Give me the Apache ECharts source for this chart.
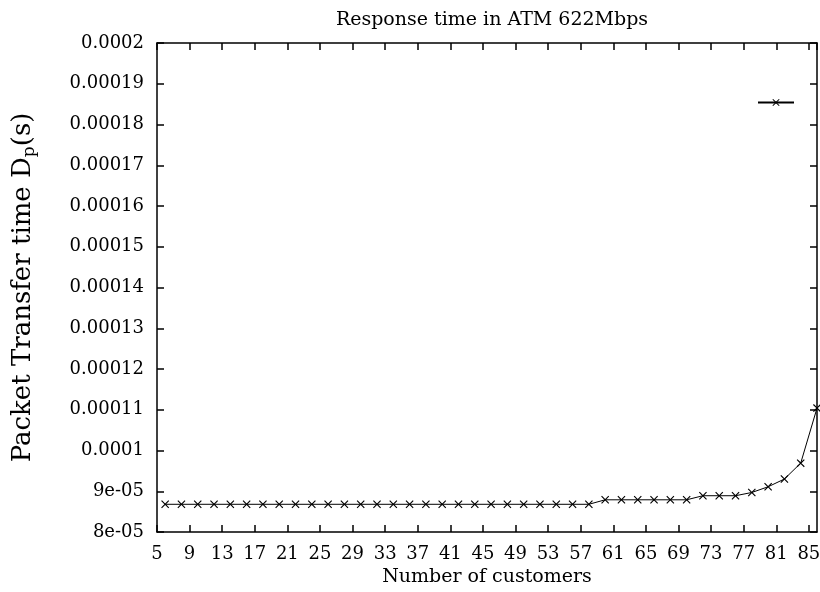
<!DOCTYPE html>
<html>
<head>
<meta charset="utf-8">
<script src="https://cdn.jsdelivr.net/npm/echarts@6/dist/echarts.min.js"></script>
<style>html,body{margin:0;padding:0;background:#fff}#c{width:820px;height:592px}</style>
</head>
<body>
<div id="c"></div>
<script>
const chartTitle = 'Response time in ATM 622Mbps';
const xName = 'Number of customers';
const customers = [6,8,10,12,14,16,18,20,22,24,26,28,30,32,34,36,38,40,42,44,46,48,50,52,54,56,58,60,62,64,66,68,70,72,74,76,78,80,82,84,86];
const responseTimes = [
  8.68e-5,8.68e-5,8.68e-5,8.68e-5,8.68e-5,8.68e-5,8.68e-5,8.68e-5,8.68e-5,8.68e-5,
  8.68e-5,8.68e-5,8.68e-5,8.68e-5,8.68e-5,8.68e-5,8.68e-5,8.68e-5,8.68e-5,8.68e-5,
  8.68e-5,8.68e-5,8.68e-5,8.68e-5,8.68e-5,8.68e-5,8.68e-5,
  8.79e-5,8.79e-5,8.79e-5,8.79e-5,8.79e-5,8.79e-5,
  8.89e-5,8.89e-5,8.89e-5,
  8.97e-5,9.11e-5,9.30e-5,9.69e-5,1.104e-4
];
const yTickLabels = ['8e-05','9e-05','0.0001','0.00011','0.00012','0.00013','0.00014','0.00015','0.00016','0.00017','0.00018','0.00019','0.0002'];
const yMin = 8e-5, yMax = 2e-4, yStep = 1e-5;
const xMin = 5, xMax = 86, xStep = 4;

const font = 'DejaVu Serif';
const crossPath = 'path://M0,1L1,0L5,4L9,0L10,1L6,5L10,9L9,10L5,6L1,10L0,9L4,5Z';

const chart = echarts.init(document.getElementById('c'), null, {renderer: 'canvas'});
const axisLine = {show: true, lineStyle: {color: '#000', width: 1.5}};
const tick = {show: true, inside: true, length: 7, lineStyle: {color: '#000', width: 1.5}};
chart.setOption({
  animation: false,
  backgroundColor: '#fff',
  title: {text: chartTitle, left: 487, top: 6, textAlign: 'center',
    textStyle: {fontFamily: font, fontSize: 19, fontWeight: 'normal', color: '#000'}},
  legend: {left: 752, top: 93, itemWidth: 36, itemHeight: 9, itemGap: 0,
    formatter: () => '', textStyle: {fontSize: 1},
    data: [{name: ' '}]},
  grid: {left: 157, right: 3, top: 43, bottom: 60, containLabel: false, outerBoundsMode: 'none'},
  xAxis: [{
    type: 'value', min: xMin, max: xMax, interval: xStep, position: 'bottom',
    axisLine: axisLine, axisTick: tick, splitLine: {show: false},
    axisLabel: {showMaxLabel: false, margin: 13, color: '#000', fontFamily: font, fontSize: 18},
    name: xName, nameLocation: 'middle', nameGap: 36,
    nameTextStyle: {fontFamily: font, fontSize: 19, color: '#000'}
  }, {
    type: 'value', min: xMin, max: xMax, interval: xStep, position: 'top',
    axisLine: axisLine, axisTick: tick, splitLine: {show: false}, axisLabel: {show: false}
  }],
  yAxis: [{
    type: 'value', min: yMin, max: yMax, interval: yStep, position: 'left',
    axisLine: axisLine, axisTick: tick, splitLine: {show: false},
    axisLabel: {margin: 13, color: '#000', fontFamily: font, fontSize: 18,
      formatter: v => yTickLabels[Math.round((v - yMin) / yStep)] || ''},
    name: '{a|Packet Transfer time D}{b|p}{a|(s)}', nameLocation: 'middle', nameGap: 119, nameRotate: 90,
    nameTextStyle: {rich: {
      a: {fontFamily: font, fontSize: 26, color: '#000'},
      b: {fontFamily: font, fontSize: 17, color: '#000', padding: [13, 0, 0, 0]}
    }}
  }, {
    type: 'value', min: yMin, max: yMax, interval: yStep, position: 'right',
    axisLine: axisLine, axisTick: tick, splitLine: {show: false}, axisLabel: {show: false}
  }],
  series: [{
    name: ' ', type: 'line',
    data: customers.map((c, i) => [c, responseTimes[i]]),
    symbol: crossPath, symbolSize: 8, showAllSymbol: true,
    lineStyle: {color: '#000', width: 1},
    itemStyle: {color: '#000'},
    clip: false
  }]
});
</script>
</body>
</html>
